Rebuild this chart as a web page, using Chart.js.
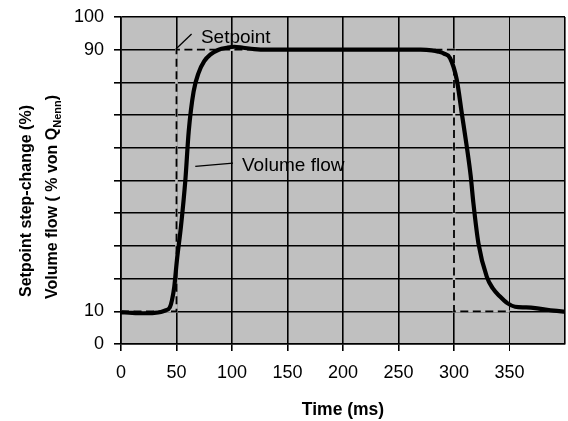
<!DOCTYPE html>
<html>
<head>
<meta charset="utf-8">
<script src="https://cdn.jsdelivr.net/npm/chart.js@4/dist/chart.umd.min.js"></script>
<style>
html,body{margin:0;padding:0;background:#fff;}
#wrap{width:568px;height:421px;position:relative;}
</style>
</head>
<body>
<div id="wrap"><canvas id="c" width="568" height="421"></canvas></div>
<script>
// ---- data ----
const flowTime = [0, 10, 20, 30, 36, 40, 44, 46, 48, 50.4, 54, 58, 61, 65.4, 70, 75, 80.4, 88, 95.4, 102, 110, 120, 130, 150, 200, 250, 270, 280, 286, 291, 296.5, 302.5, 307, 311.5, 315, 317.5, 322, 329.5, 335, 341.5, 348, 355, 365, 375, 390, 400];
const flowValue = [9.7, 9.5, 9.4, 9.5, 9.8, 10.3, 11.2, 13.5, 17.5, 25.7, 35.9, 50.2, 65, 77.2, 83, 86.5, 88.5, 90, 90.6, 90.9, 90.6, 90.2, 90, 90, 90, 90, 90, 89.8, 89.4, 88.8, 87.4, 80.8, 70.6, 60.4, 51.5, 43, 30.8, 20.6, 17, 14.5, 12.5, 11.4, 11.2, 10.9, 10.2, 9.9];
const setpointTime = [0, 50, 50, 300, 300, 350];
const setpointValue = [10, 10, 90, 90, 10, 10];
const xTickLabels = ['0', '50', '100', '150', '200', '250', '300', '350'];
const yTickLabels = ['0', '10', '90', '100'];
const xTitle = 'Time (ms)';
const yTitleLine1 = 'Setpoint step-change (%)';
const yTitleLine2 = ['Volume flow ( % von Q', 'Nenn', ')'];
const labelSetpoint = 'Setpoint';
const labelFlow = 'Volume flow';
// annotation anchors in data units
const setpointLabelAt = {x: 72, y: 92};
const setpointLeader = [{x: 49.5, y: 90.2}, {x: 63.6, y: 94.8}];
const flowLabelAt = {x: 109, y: 53};
const flowLeader = [{x: 66.9, y: 54.3}, {x: 100.9, y: 55.3}];

const FONT = '"Liberation Sans", Arial, sans-serif';
const PLOT_BG = '#c0c0c0';

const bgPlugin = {
  id: 'bg',
  beforeDraw(chart) {
    const {ctx, chartArea: a} = chart;
    ctx.save();
    ctx.fillStyle = PLOT_BG;
    ctx.fillRect(a.left, a.top, a.right - a.left, a.bottom - a.top);
    ctx.restore();
  }
};

const textPlugin = {
  id: 'texts',
  afterDraw(chart) {
    const {ctx} = chart;
    const xs = chart.scales.x, ys = chart.scales.y;
    const px = v => xs.getPixelForValue(v), py = v => ys.getPixelForValue(v);
    ctx.save();
    ctx.fillStyle = '#000';
    ctx.strokeStyle = '#000';
    ctx.lineWidth = 1.3;
    [setpointLeader, flowLeader].forEach(l => {
      ctx.beginPath();
      ctx.moveTo(px(l[0].x), py(l[0].y));
      ctx.lineTo(px(l[1].x), py(l[1].y));
      ctx.stroke();
    });
    ctx.font = '19px ' + FONT;
    ctx.textBaseline = 'alphabetic';
    ctx.textAlign = 'left';
    ctx.fillText(labelSetpoint, px(setpointLabelAt.x), py(setpointLabelAt.y));
    ctx.fillText(labelFlow, px(flowLabelAt.x), py(flowLabelAt.y));

    // y title (rotated, two lines, with subscript)
    const centerY = 201;
    const big = 'bold 16px ' + FONT, small = 'bold 11px ' + FONT;
    ctx.save();
    ctx.translate(31, centerY);
    ctx.rotate(-Math.PI / 2);
    ctx.font = big;
    ctx.textAlign = 'center';
    ctx.fillText(yTitleLine1, 0, 0);
    ctx.restore();

    ctx.save();
    ctx.translate(57, centerY - 4);
    ctx.rotate(-Math.PI / 2);
    ctx.textAlign = 'left';
    ctx.font = big; const w1 = ctx.measureText(yTitleLine2[0]).width; const w3 = ctx.measureText(yTitleLine2[2]).width;
    ctx.font = small; const w2 = ctx.measureText(yTitleLine2[1]).width;
    let x0 = -(w1 + w2 + w3) / 2;
    ctx.font = big; ctx.fillText(yTitleLine2[0], x0, 0); x0 += w1;
    ctx.font = small; ctx.fillText(yTitleLine2[1], x0, 4); x0 += w2;
    ctx.font = big; ctx.fillText(yTitleLine2[2], x0, 0);
    ctx.restore();
    ctx.restore();
  }
};

const setpointPoints = setpointTime.map((t, i) => ({x: t, y: setpointValue[i]}));

new Chart(document.getElementById('c'), {
  type: 'scatter',
  data: {
    datasets: [
      {
        label: 'Setpoint',
        data: setpointPoints,
        showLine: true,
        borderColor: '#000',
        borderWidth: 1.8,
        borderDash: [8, 4.5],
        pointRadius: 0,
        tension: 0,
        order: 2
      },
      {
        label: 'Setpoint gap fill',
        data: setpointPoints,
        showLine: true,
        borderColor: PLOT_BG,
        borderWidth: 2.6,
        pointRadius: 0,
        tension: 0,
        order: 3
      },
      {
        label: 'Volume flow',
        data: flowTime.map((t, i) => ({x: t, y: flowValue[i]})),
        showLine: true,
        borderColor: '#000',
        borderWidth: 4.2,
        pointRadius: 0,
        cubicInterpolationMode: 'monotone',
        borderCapStyle: 'round',
        borderJoinStyle: 'round',
        order: 1
      }
    ]
  },
  plugins: [bgPlugin, textPlugin],
  options: {
    responsive: false,
    animation: false,
    events: [],
    layout: {padding: {left: 0, right: 3, top: 17, bottom: 0}},
    plugins: {legend: {display: false}, tooltip: {enabled: false}, title: {display: false}},
    scales: {
      x: {
        type: 'linear',
        min: 0, max: 400,
        afterFit(s) { s.height = 77; s.paddingLeft = 0; s.paddingRight = 0; },
        afterBuildTicks(s) { s.ticks = [0,50,100,150,200,250,300,350,400].map(v => ({value: v})); },
        ticks: {
          autoSkip: false, maxRotation: 0, color: '#000', padding: 11,
          font: {family: FONT, size: 18},
          callback: v => { const i = [0,50,100,150,200,250,300,350].indexOf(v); return i >= 0 ? xTickLabels[i] : ''; }
        },
        grid: {
          color: '#000',
          lineWidth: c => (c.tick && c.tick.value === 350) ? 1 : 1.6,
          tickColor: c => (c.tick && c.tick.value === 400) ? 'rgba(0,0,0,0)' : '#000',
          tickLength: 7,
          drawTicks: true
        },
        border: {color: '#000', width: 1.6},
        title: {display: true, text: xTitle, color: '#000', font: {family: FONT, size: 17.5, weight: 'bold'}, padding: {top: 0, bottom: 0}}
      },
      y: {
        type: 'linear',
        min: 0, max: 100,
        afterFit(s) { s.width = 121; s.paddingTop = 0; s.paddingBottom = 0; },
        afterBuildTicks(s) { const t = []; for (let v = 0; v <= 100; v += 10) t.push({value: v}); s.ticks = t; },
        ticks: {
          autoSkip: false, color: '#000', padding: 10,
          font: {family: FONT, size: 18},
          callback: v => { const i = [0,10,90,100].indexOf(v); return i >= 0 ? yTickLabels[i] : ''; }
        },
        grid: {color: '#000', lineWidth: 1.6, tickLength: 7, drawTicks: true},
        border: {color: '#000', width: 1.6}
      }
    }
  }
});
</script>
</body>
</html>
